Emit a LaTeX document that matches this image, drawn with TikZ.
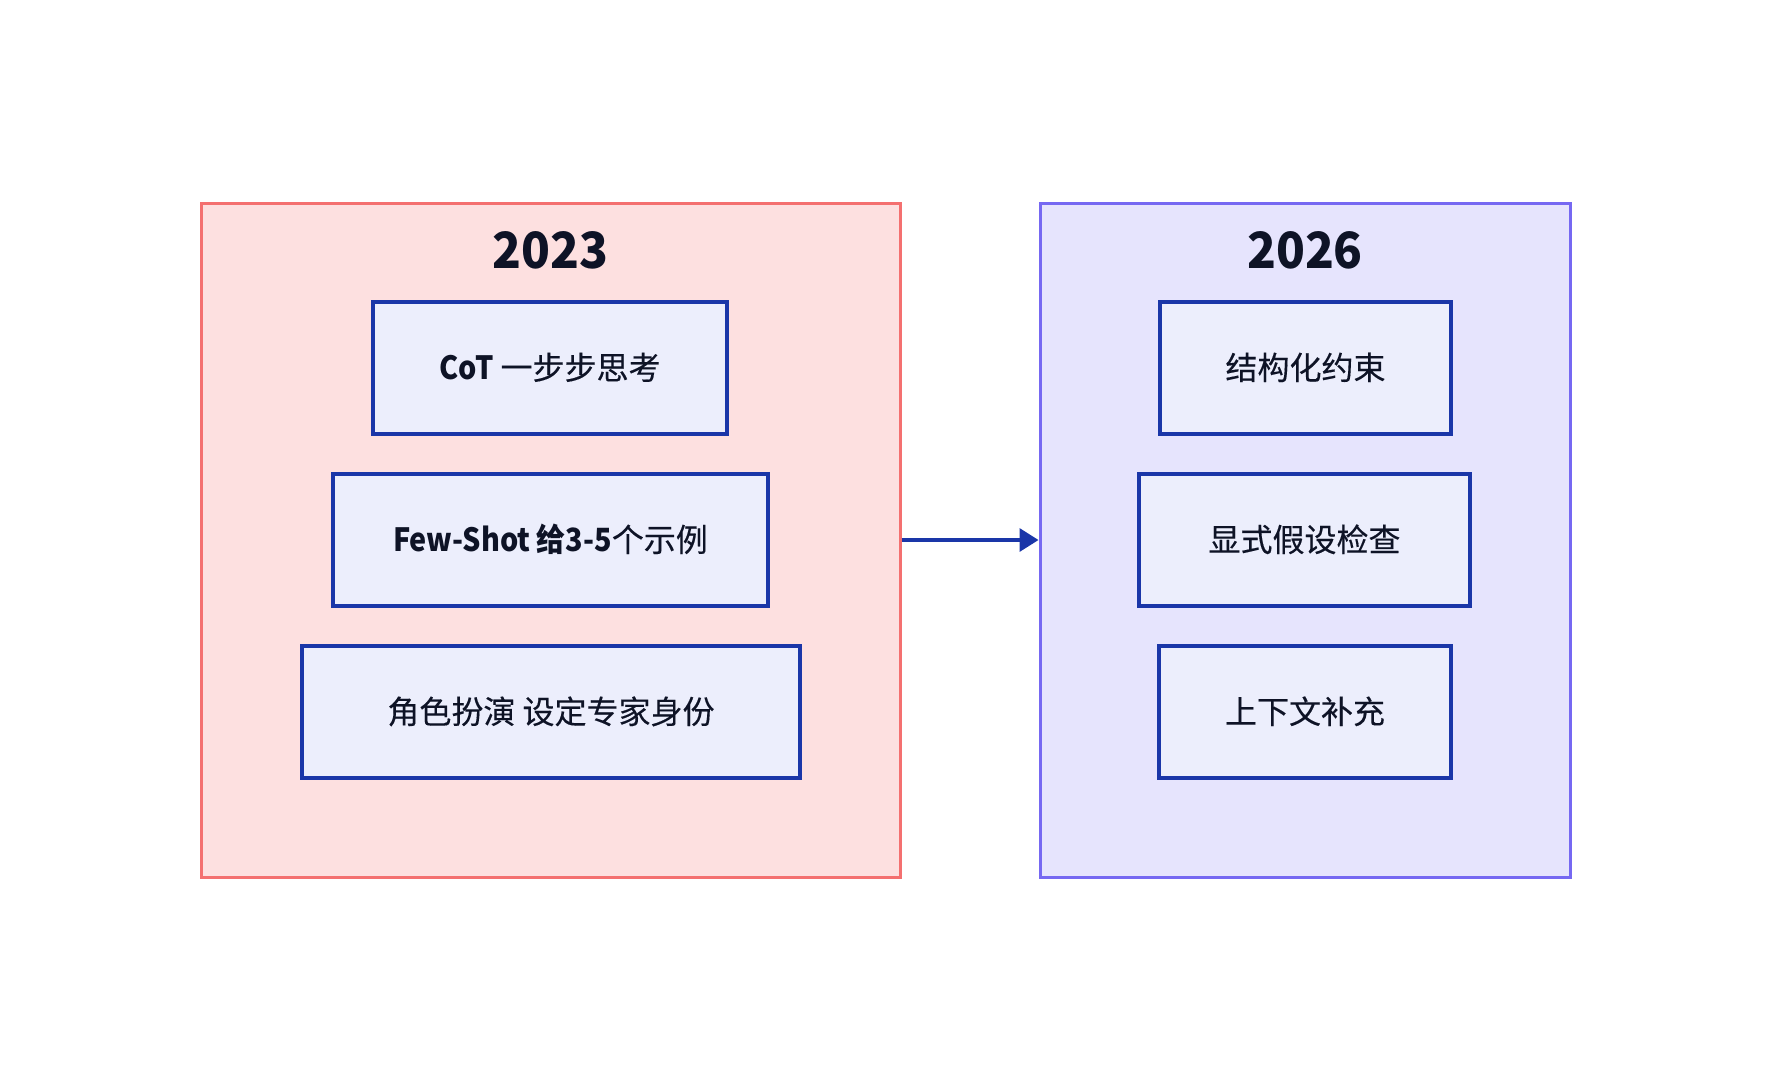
\documentclass[tikz,border=0pt]{standalone}
\usepackage{fontspec}
\setmainfont{Noto Sans CJK SC}[FakeBold=0.3]
\newfontfamily\narrowbold{Noto Sans CJK SC}[FakeStretch=0.9]
\newfontfamily\titlefont{Noto Sans CJK SC}[FakeStretch=0.95]
\usetikzlibrary{arrows.meta}
\definecolor{redfill}{HTML}{FDE0E0}
\definecolor{redline}{HTML}{F47070}
\definecolor{bluefill}{HTML}{E6E4FD}
\definecolor{blueline}{HTML}{7668F2}
\definecolor{itemfill}{HTML}{ECEEFC}
\definecolor{itemline}{HTML}{1A36A8}
\definecolor{ink}{HTML}{0E1326}
\newcommand{\latb}[1]{{\narrowbold\bfseries #1}}
\begin{document}
\begin{tikzpicture}[x=1pt,y=-1pt,
  panel/.style={line width=3pt, minimum height=674pt, inner sep=0pt},
  oldpanel/.style={panel, draw=redline, fill=redfill, minimum width=699pt},
  newpanel/.style={panel, draw=blueline, fill=bluefill, minimum width=530pt},
  yeartitle/.style={inner sep=0pt, text=ink, font=\fontsize{50}{60}\titlefont\bfseries, text height=36.7pt, text depth=0pt},
  item/.style={draw=itemline, fill=itemfill, line width=3.5pt, minimum height=132pt, inner sep=0pt,
    text=ink, font=\fontsize{32}{38}\selectfont, text height=26.9pt, text depth=3.8pt},
  flow/.style={draw=itemline, line width=3.4pt, -{Triangle[length=19pt,width=23pt]}}
]
\useasboundingbox[fill=white] (0,0) rectangle (1772,1080);

\node[oldpanel] (old) at (550.5,540) {};
\node[newpanel] (new) at (1305,540) {};

\node[yeartitle] (t2023) at (550.5,250) {2023};
\node[yeartitle] (t2026) at (1305,250) {2026};

\node[item, minimum width=354pt] (cot) at (550,368) {\latb{CoT} 一步步思考};
\node[item, minimum width=435pt] (few) at (550.5,540) {\latb{Few-Shot 给3-5}个示例};
\node[item, minimum width=498pt] (role) at (551,712) {角色扮演 设定专家身份};

\node[item, minimum width=291pt] (struct) at (1305.5,368) {结构化约束};
\node[item, minimum width=331pt] (assume) at (1304.5,540) {显式假设检查};
\node[item, minimum width=292pt] (ctx) at (1305,712) {上下文补充};

\draw[flow] (old.east) -- (new.west);
\end{tikzpicture}
\end{document}
